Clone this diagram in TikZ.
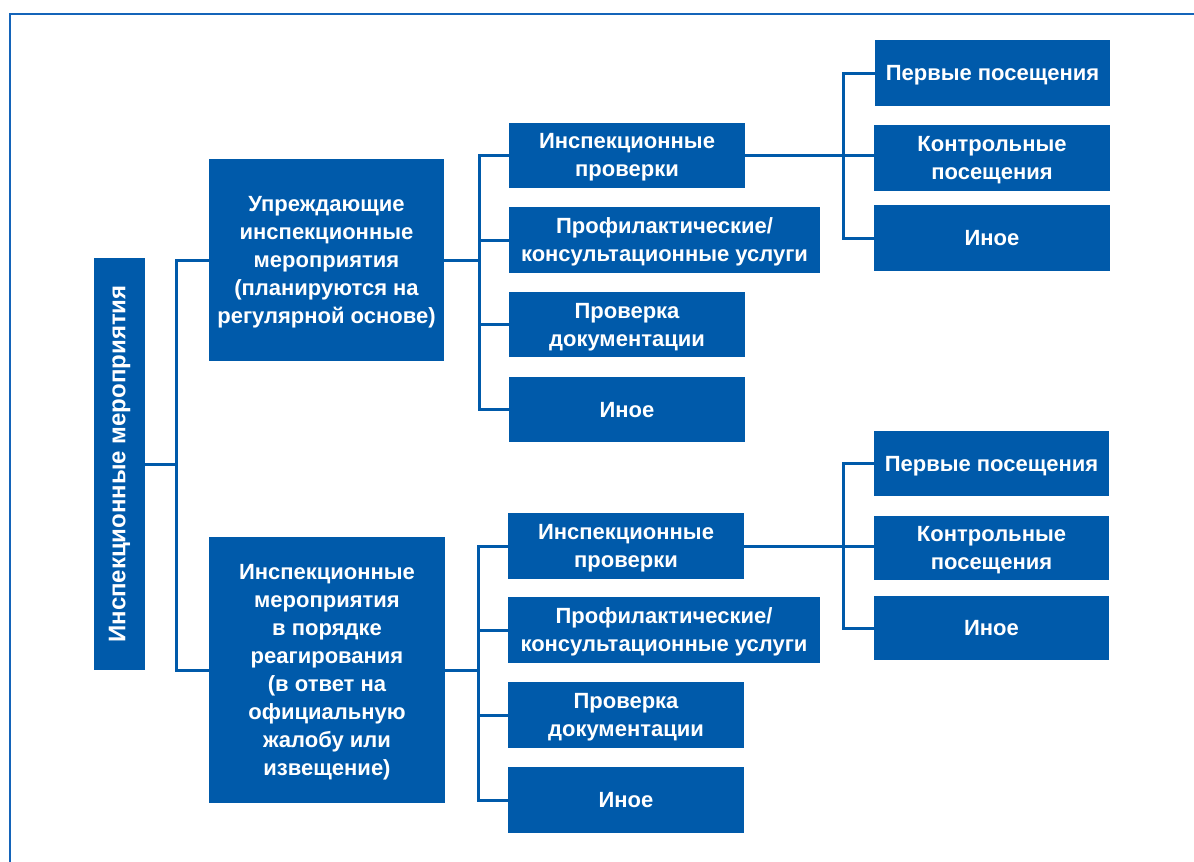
\documentclass[tikz,border=0pt]{standalone}
\usepackage{fontspec}
\setmainfont{Liberation Sans}
\definecolor{boxblue}{RGB}{0,90,170}
\definecolor{frameblue}{RGB}{20,100,185}
\tikzset{
  bx/.style={rectangle, fill=boxblue, text=white, inner sep=0pt, align=center,
    text depth=0pt, font=\fontsize{22}{28}\selectfont\bfseries},
  lnk/.style={draw=boxblue, line width=3pt},
}
\begin{document}
\begin{tikzpicture}[x=1pt,y=-1pt]
\useasboundingbox (0,0) rectangle (1194,862);
\draw[frameblue, line width=2.5pt] (10,862) -- (10,14) -- (1194,14);

% root
\node[bx, minimum width=51pt, minimum height=412pt] (root) at (119.5,464)
  {\rotatebox{90}{\fontsize{24}{28}\selectfont Инспекционные мероприятия}};

% level 1
\node[bx, minimum width=235pt, minimum height=202pt] (t1) at (326.5,260)
  {Упреждающие\\инспекционные\\мероприятия\\(планируются на\\регулярной основе)};
\node[bx, minimum width=236pt, minimum height=266pt] (b1) at (327,670)
  {Инспекционные\\мероприятия\\в порядке\\реагирования\\(в ответ на\\официальную\\жалобу или\\извещение)};

% level 2 top
\node[bx, minimum width=236pt, minimum height=65pt] (a1) at (627,155) {Инспекционные\\проверки};
\node[bx, minimum width=311pt, minimum height=66pt] (a2) at (664.5,240) {Профилактические/\\консультационные услуги};
\node[bx, minimum width=236pt, minimum height=65pt] (a3) at (627,324.5) {Проверка\\документации};
\node[bx, minimum width=236pt, minimum height=65pt] (a4) at (627,409.5) {Иное};

% level 3 top
\node[bx, minimum width=235pt, minimum height=66pt] (c1) at (992.5,73) {Первые посещения};
\node[bx, minimum width=236pt, minimum height=66pt] (c2) at (992,158) {Контрольные\\посещения};
\node[bx, minimum width=236pt, minimum height=66pt] (c3) at (992,238) {Иное};

% level 2 bottom
\node[bx, minimum width=236pt, minimum height=66pt] (d1) at (626,546) {Инспекционные\\проверки};
\node[bx, minimum width=312pt, minimum height=66pt] (d2) at (664,630) {Профилактические/\\консультационные услуги};
\node[bx, minimum width=236pt, minimum height=66pt] (d3) at (626,715) {Проверка\\документации};
\node[bx, minimum width=236pt, minimum height=66pt] (d4) at (626,800) {Иное};

% level 3 bottom
\node[bx, minimum width=235pt, minimum height=65pt] (e1) at (991.5,463.5) {Первые посещения};
\node[bx, minimum width=235pt, minimum height=64pt] (e2) at (991.5,548) {Контрольные\\посещения};
\node[bx, minimum width=235pt, minimum height=64pt] (e3) at (991.5,628) {Иное};

% bus coordinates
\coordinate (bus0) at (176,0);
\coordinate (busA) at (479,0);
\coordinate (busB) at (478,0);
\coordinate (busC) at (843,0);

% root connectors
\draw[lnk] (root.east) -- (bus0 |- root.east);
\draw[lnk] (t1.west) -- (bus0 |- t1.west) -- (bus0 |- b1.west) -- (b1.west);

% top group
\draw[lnk] (t1.east) -- (busA |- t1.east);
\draw[lnk] (a1.west) -- (busA |- a1.west) -- (busA |- a4.west) -- (a4.west);
\draw[lnk] (a2.west) -- (busA |- a2.west);
\draw[lnk] (a3.west) -- (busA |- a3.west);
\draw[lnk] (a1.east) -- (c2.west |- a1.east);
\draw[lnk] (c1.west) -- (busC |- c1.west) -- (busC |- c3.west) -- (c3.west);

% bottom group
\draw[lnk] (b1.east) -- (busB |- b1.east);
\draw[lnk] (d1.west) -- (busB |- d1.west) -- (busB |- d4.west) -- (d4.west);
\draw[lnk] (d2.west) -- (busB |- d2.west);
\draw[lnk] (d3.west) -- (busB |- d3.west);
\draw[lnk] (d1.east) -- (e2.west |- d1.east);
\draw[lnk] (e1.west) -- (busC |- e1.west) -- (busC |- e3.west) -- (e3.west);
\end{tikzpicture}
\end{document}
